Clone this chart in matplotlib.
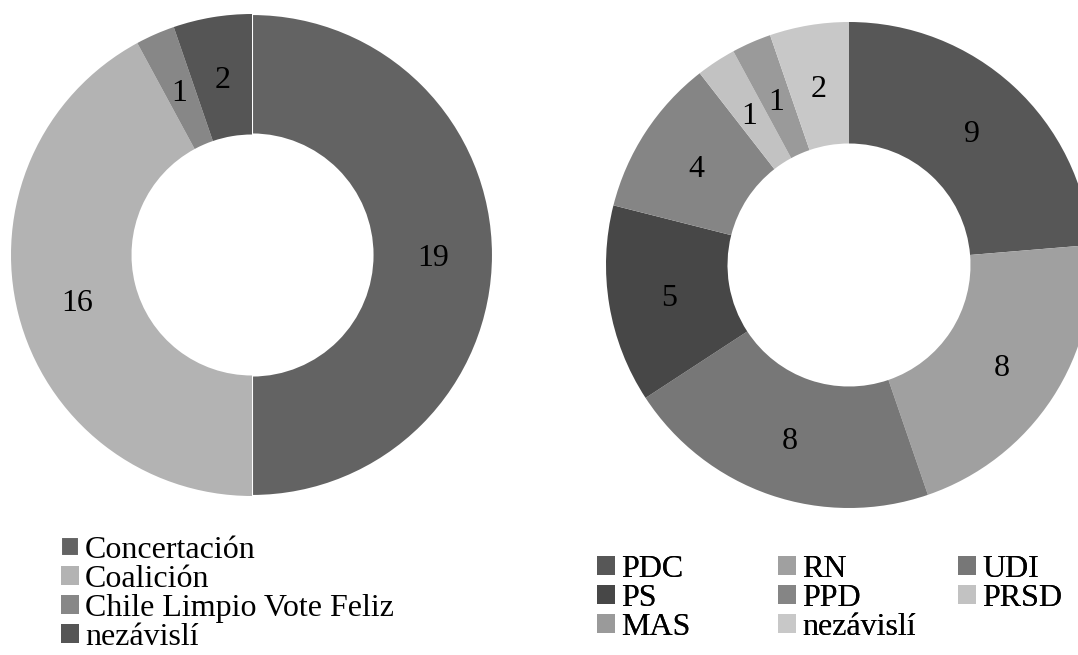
import matplotlib.pyplot as plt
from matplotlib.transforms import offset_copy

# left donut: coalitions
left_labels = ["Concertación", "Coalición", "Chile Limpio Vote Feliz", "nezávislí"]
left_values = [19, 16, 1, 2]
left_colors = ["#636363", "#b3b3b3", "#878787", "#555555"]

# right donut: parties
right_labels = ["PDC", "RN", "UDI", "PS", "PPD", "PRSD", "MAS", "nezávislí"]
right_values = [9, 8, 8, 5, 4, 1, 1, 2]
right_colors = ["#575757", "#a0a0a0", "#777777", "#474747",
                "#858585", "#c2c2c2", "#9a9a9a", "#c8c8c8"]

plt.rcParams["font.family"] = ["Liberation Serif", "DejaVu Serif"]
W, H = 1078, 655
FS = 23
fig = plt.figure(figsize=(W / 100, H / 100), dpi=100)


def donut(cx, cy, r, values, colors):
    ax = fig.add_axes([(cx - r) / W, (H - cy - r) / H, 2 * r / W, 2 * r / H])
    total = sum(values)
    wedges, _, autotexts = ax.pie(
        values, colors=colors, startangle=90, counterclock=False,
        autopct=lambda p: f"{round(p * total / 100)}", pctdistance=0.75,
        wedgeprops=dict(width=0.5, linewidth=0),
        textprops=dict(fontsize=FS, color="black"))
    # value labels sit a few pixels lower in the original
    for t in autotexts:
        t.set_transform(offset_copy(t.get_transform(), fig=fig, x=0, y=-4, units="dots"))
    ax.set_xlim(-1, 1)
    ax.set_ylim(-1, 1)
    ax.set_aspect("equal")
    ax.axis("off")
    return ax, wedges


axl, wl = donut(252, 255, 241, left_values, left_colors)
# thin white split lines around the big wedge
wl[0].set_edgecolor("white")
wl[0].set_linewidth(1.5)
axr, wr = donut(849, 265, 243, right_values, right_colors)

leg_kw = dict(loc="upper left", ncol=1, frameon=False, fontsize=FS,
              handlelength=0.55, handleheight=0.55, handletextpad=0.2,
              labelspacing=0.0, borderpad=0, borderaxespad=0)

fig.legend(wl, left_labels, bbox_to_anchor=(61 / W, 1 - 536 / H), **leg_kw)

# right legend is filled row by row, three per row
col_x = [597, 778, 958]
for c in range(3):
    idx = list(range(c, len(right_labels), 3))
    lg = fig.legend([wr[i] for i in idx], [right_labels[i] for i in idx],
                    bbox_to_anchor=(col_x[c] / W, 1 - 555 / H), **leg_kw)
    fig.add_artist(lg)

fig.savefig("out.png", dpi=100)
